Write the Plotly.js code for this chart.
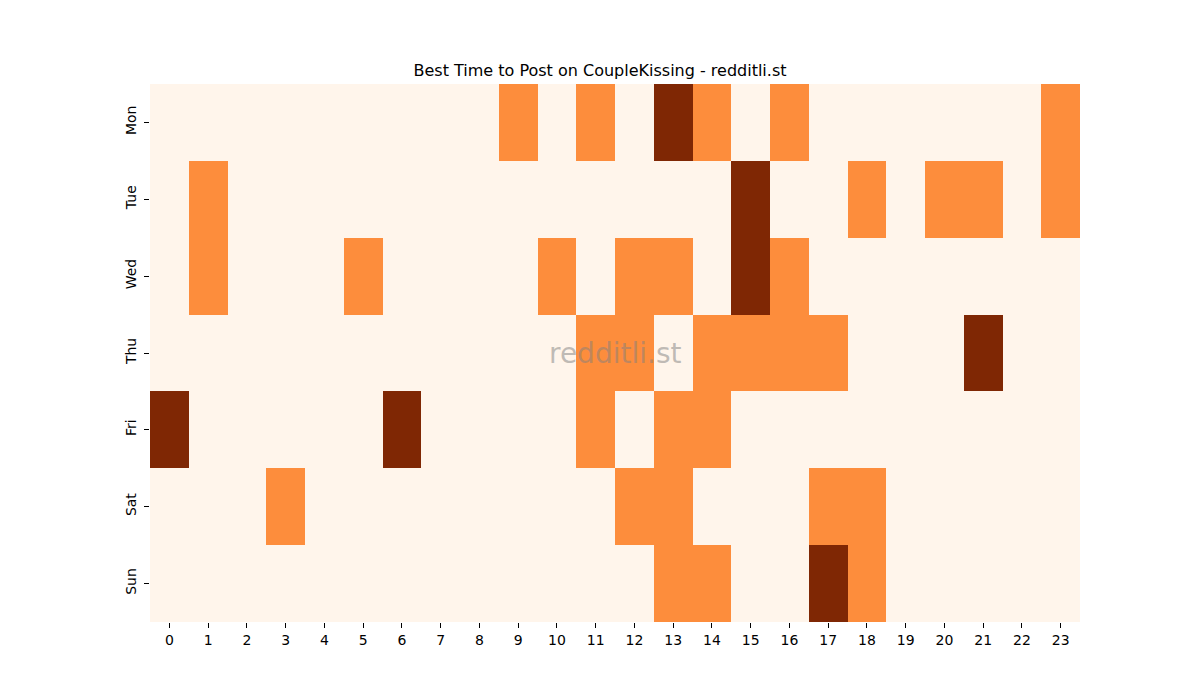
<!DOCTYPE html>
<html>
<head>
<meta charset="utf-8">
<script src="https://cdn.plot.ly/plotly-3.0.1.min.js"></script>
<style>
  body { margin: 0; background: #fff; }
  #chart { width: 1200px; height: 700px; }
</style>
</head>
<body>
<div id="chart"></div>
<script>
const hours = [0, 1, 2, 3, 4, 5, 6, 7, 8, 9, 10, 11, 12, 13, 14, 15, 16, 17, 18, 19, 20, 21, 22, 23];
const days = ["Mon", "Tue", "Wed", "Thu", "Fri", "Sat", "Sun"];

// 0 = none, 1 = good, 2 = best
const mon = [0,0,0,0,0,0,0,0,0,1,0,1,0,2,1,0,1,0,0,0,0,0,0,1];
const tue = [0,1,0,0,0,0,0,0,0,0,0,0,0,0,0,2,0,0,1,0,1,1,0,1];
const wed = [0,1,0,0,0,1,0,0,0,0,1,0,1,1,0,2,1,0,0,0,0,0,0,0];
const thu = [0,0,0,0,0,0,0,0,0,0,0,1,1,0,1,1,1,1,0,0,0,2,0,0];
const fri = [2,0,0,0,0,0,2,0,0,0,0,1,0,1,1,0,0,0,0,0,0,0,0,0];
const sat = [0,0,0,1,0,0,0,0,0,0,0,0,1,1,0,0,0,1,1,0,0,0,0,0];
const sun = [0,0,0,0,0,0,0,0,0,0,0,0,0,1,1,0,0,2,1,0,0,0,0,0];

const font = "DejaVu Sans, sans-serif";
const tickFont = { family: font, size: 14, color: "#000" };

const trace = {
    type: "heatmap",
    x: hours,
    y: days,
    z: [mon, tue, wed, thu, fri, sat, sun],
    zmin: 0,
    zmax: 2,
    colorscale: [[0, "#fff5eb"], [0.5, "#fd8d3c"], [1, "#7f2704"]],
    showscale: false,
    hoverongaps: false
};

const layout = {
    width: 1200,
    height: 700,
    margin: { l: 150, r: 120, t: 84, b: 78 },
    paper_bgcolor: "#fff",
    plot_bgcolor: "#fff",
    font: { family: font, size: 14, color: "#000" },
    title: {
        text: "Best Time to Post on CoupleKissing - redditli.st",
        font: { family: font, size: 16, color: "#000" },
        x: 0.5,
        xanchor: "center",
        y: 1 - 70 / 700,
        yanchor: "middle"
    },
    xaxis: {
        tickmode: "array",
        tickvals: hours,
        ticktext: hours.map(String),
        ticks: "outside",
        ticklen: 5,
        tickcolor: "#000",
        tickfont: tickFont,
        showgrid: false,
        zeroline: false,
        showline: false
    },
    yaxis: {
        autorange: "reversed",
        tickangle: -90,
        ticks: "outside",
        ticklen: 5,
        tickcolor: "#000",
        tickfont: tickFont,
        ticklabelstandoff: 2,
        showgrid: false,
        zeroline: false,
        showline: false
    },
    annotations: [{
        text: "redditli.st",
        xref: "paper",
        yref: "paper",
        x: 0.5,
        y: 0.5,
        showarrow: false,
        font: { family: font, size: 28, color: "rgba(128,128,128,0.5)" }
    }]
};

Plotly.newPlot("chart", [trace], layout, { displayModeBar: false, staticPlot: true });
</script>
</body>
</html>
